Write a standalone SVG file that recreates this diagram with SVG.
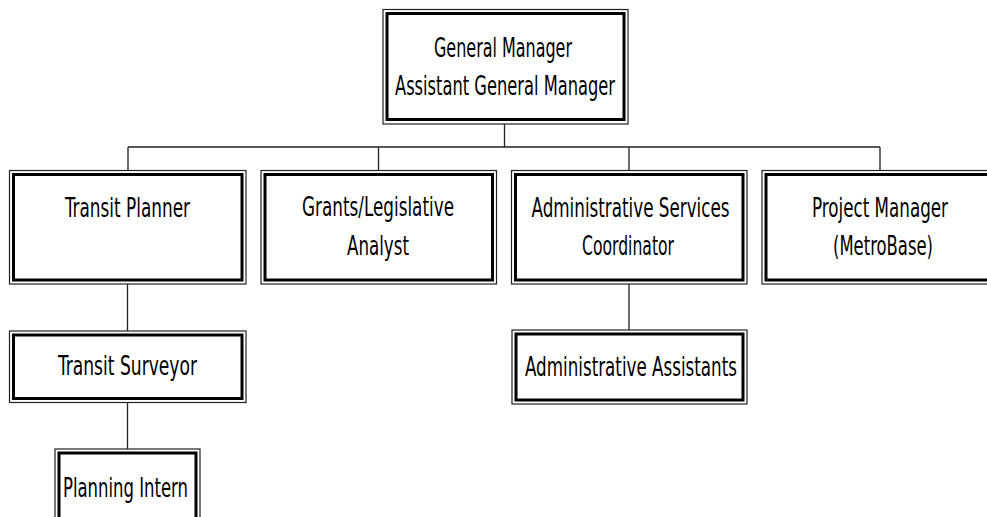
<svg xmlns="http://www.w3.org/2000/svg" width="987" height="517" viewBox="0 0 987 517">
<style>
.o{fill:#fff;stroke:#222;stroke-width:1.2}
.i{fill:none;stroke:#000;stroke-width:3}
.t{font-family:"DejaVu Sans Condensed","DejaVu Sans",sans-serif;font-size:26px;fill:#000;text-anchor:middle}
.c{fill:none;stroke:#222;stroke-width:1.3}
</style>
<rect width="987" height="517" fill="#fff"/>
<g id="connectors">
<path class="c" d="M504.5 124V147M128 147H880M128 147V170M378.5 147V170M629 147V170M880 147V170M127.5 284V331M127.5 403V449M629 284V330"/>
</g>
<g id="gm">
<rect class="o" x="383" y="9.5" width="245" height="114.5"/>
<rect class="i" x="387" y="13.5" width="237" height="106"/>
<text class="t" x="503" y="57" textLength="138" lengthAdjust="spacingAndGlyphs">General Manager</text>
<text class="t" x="505" y="95" textLength="220" lengthAdjust="spacingAndGlyphs">Assistant General Manager</text>
</g>
<g id="transit-planner">
<rect class="o" x="9.5" y="170.5" width="236.5" height="113.5"/>
<rect class="i" x="13.5" y="174.5" width="228.5" height="105.5"/>
<text class="t" x="127.5" y="217" textLength="125" lengthAdjust="spacingAndGlyphs">Transit Planner</text>
</g>
<g id="grants">
<rect class="o" x="261" y="170.5" width="235.5" height="113.5"/>
<rect class="i" x="265" y="174.5" width="227.5" height="105.5"/>
<text class="t" x="378" y="216" textLength="152" lengthAdjust="spacingAndGlyphs">Grants/Legislative</text>
<text class="t" x="378" y="255" textLength="62" lengthAdjust="spacingAndGlyphs">Analyst</text>
</g>
<g id="admin-services">
<rect class="o" x="511.5" y="170.5" width="235.5" height="113.5"/>
<rect class="i" x="515.5" y="174.5" width="227.5" height="105.5"/>
<text class="t" x="630.5" y="216.5" textLength="198" lengthAdjust="spacingAndGlyphs">Administrative Services</text>
<text class="t" x="628" y="255" textLength="92" lengthAdjust="spacingAndGlyphs">Coordinator</text>
</g>
<g id="project-manager">
<rect class="o" x="762" y="170.5" width="237" height="113.5"/>
<rect class="i" x="766" y="174.5" width="229" height="105.5"/>
<text class="t" x="880" y="216.5" textLength="136" lengthAdjust="spacingAndGlyphs">Project Manager</text>
<text class="t" x="883" y="255" textLength="100" lengthAdjust="spacingAndGlyphs">(MetroBase)</text>
</g>
<g id="transit-surveyor">
<rect class="o" x="9.5" y="331" width="236.5" height="71.5"/>
<rect class="i" x="13.5" y="335" width="228.5" height="63.5"/>
<text class="t" x="127.5" y="375" textLength="139" lengthAdjust="spacingAndGlyphs">Transit Surveyor</text>
</g>
<g id="admin-assistants">
<rect class="o" x="512" y="330" width="235" height="74"/>
<rect class="i" x="516" y="334" width="227" height="66"/>
<text class="t" x="631" y="376" textLength="212" lengthAdjust="spacingAndGlyphs">Administrative Assistants</text>
</g>
<g id="planning-intern">
<rect class="o" x="55" y="449" width="145" height="75"/>
<rect class="i" x="59" y="453" width="137" height="67"/>
<text class="t" x="125.5" y="496.5" textLength="125" lengthAdjust="spacingAndGlyphs">Planning Intern</text>
</g>
</svg>
